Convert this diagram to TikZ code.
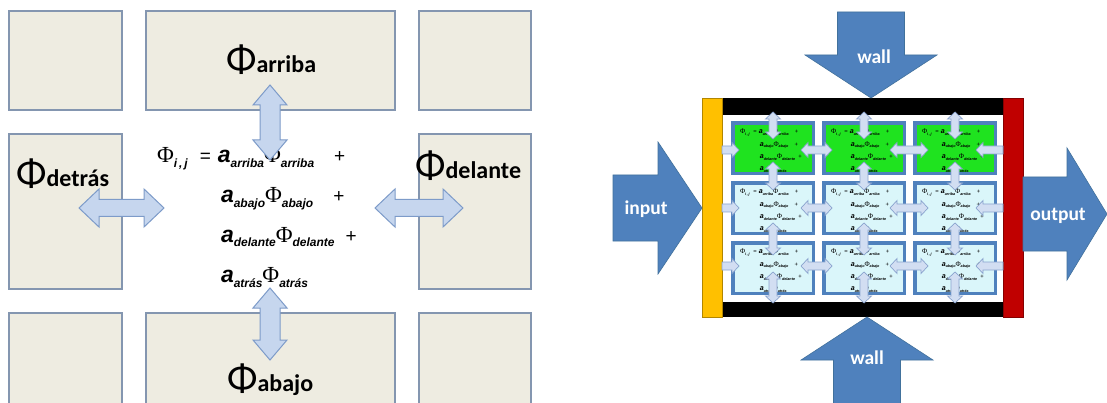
\documentclass[tikz,border=0pt]{standalone}
\usepackage{fontspec}
\setmainfont{Carlito}
\newfontfamily\eqsans{Liberation Sans}
\newfontfamily\eqserif{Liberation Serif}

\definecolor{boxfill}{HTML}{EEECE1}
\definecolor{boxline}{HTML}{8496B0}
\definecolor{lightfill}{HTML}{C6D6EE}
\definecolor{lightline}{HTML}{7D9BC9}
\definecolor{minifill}{HTML}{D2DEF2}
\definecolor{miniline}{HTML}{8AA3CE}
\definecolor{bigblue}{HTML}{4F81BD}
\definecolor{bigline}{HTML}{41719C}
\definecolor{cellcyan}{HTML}{DAF6FA}
\definecolor{cellgreen}{HTML}{1FE31F}
\definecolor{inlet}{HTML}{FFC000}
\definecolor{outlet}{HTML}{C00000}

% pieces of the discretised equation
\newcommand\Aco[1]{{\eqsans\bfseries\itshape\fontsize{23}{23}\selectfont a}\raisebox{-5pt}{\eqsans\bfseries\itshape\fontsize{12}{12}\selectfont #1}}
\newcommand\Phv[1]{{\eqserif\fontsize{23}{23}\selectfont Φ}\raisebox{-5pt}{\eqsans\bfseries\itshape\fontsize{12}{12}\selectfont #1}}
\newcommand\Pls{{\eqsans\fontsize{19}{19}\selectfont +}}
\newcommand\Eqs{{\eqsans\fontsize{19}{19}\selectfont =}}
\newcommand\Biglbl[1]{{\fontsize{40}{40}\selectfont Φ}{\fontsize{24}{24}\selectfont\bfseries #1}}

% the four-line equation, origin at the start of the first baseline
\newcommand\eqblock[1]{%
  \node[eqline] (#1-1) at (0,0) {\Phv{i\,,\,j}\hspace{12pt}\Eqs\hspace{7pt}\Aco{arriba}\Phv{arriba}\hspace{20pt}\Pls};
  \node[eqline] (#1-2) at (64,40) {\Aco{abajo}\Phv{abajo}\hspace{20pt}\Pls};
  \node[eqline] (#1-3) at (64,79) {\Aco{delante}\Phv{delante}\hspace{11pt}\Pls};
  \node[eqline] (#1-4) at (64,119) {\Aco{atrás}\Phv{atrás}};
}

% block arrows: style, start, end, axis position, shaft half width, head half width, head length
\newcommand\hdarrow[7]{\draw[#1] (#2,#4) -- ({#2+#7},{#4-#6}) -- ({#2+#7},{#4-#5}) -- ({#3-#7},{#4-#5}) -- ({#3-#7},{#4-#6}) -- (#3,#4) -- ({#3-#7},{#4+#6}) -- ({#3-#7},{#4+#5}) -- ({#2+#7},{#4+#5}) -- ({#2+#7},{#4+#6}) -- cycle;}
\newcommand\vdarrow[7]{\draw[#1] (#4,#2) -- ({#4-#6},{#2+#7}) -- ({#4-#5},{#2+#7}) -- ({#4-#5},{#3-#7}) -- ({#4-#6},{#3-#7}) -- (#4,#3) -- ({#4+#6},{#3-#7}) -- ({#4+#5},{#3-#7}) -- ({#4+#5},{#2+#7}) -- ({#4+#6},{#2+#7}) -- cycle;}
% single-headed: tail, tip, axis, shaft half, head half, signed head length
\newcommand\hsarrow[7]{\draw[#1] (#2,{#4-#5}) -- ({#3-(#7)},{#4-#5}) -- ({#3-(#7)},{#4-#6}) -- (#3,#4) -- ({#3-(#7)},{#4+#6}) -- ({#3-(#7)},{#4+#5}) -- (#2,{#4+#5}) -- cycle;}
\newcommand\vsarrow[7]{\draw[#1] ({#4-#5},#2) -- ({#4-#5},{#3-(#7)}) -- ({#4-#6},{#3-(#7)}) -- (#4,#3) -- ({#4+#6},{#3-(#7)}) -- ({#4+#5},{#3-(#7)}) -- ({#4+#5},#2) -- cycle;}

\tikzset{
  eqline/.style={anchor=base west, inner sep=0pt, outer sep=0pt},
  cellbox/.style={fill=boxfill, draw=boxline, line width=1.2pt},
  biglabel/.style={anchor=base west, inner sep=0pt},
  light/.style={fill=lightfill, draw=lightline, line width=1pt, line join=miter},
  mini/.style={fill=minifill, draw=miniline, line width=0.7pt},
  big/.style={fill=bigblue, draw=bigline, line width=0.6pt},
  arrowtext/.style={text=white, font=\fontsize{19.5}{19.5}\selectfont\bfseries, inner sep=0pt},
}

\begin{document}
\begin{tikzpicture}[x=1pt, y=-1pt]
\useasboundingbox (0,0) rectangle (1107,403);
\fill[white] (0,0) rectangle (1107,403);
\clip (0,0) rectangle (1107,403);

% ---------- stencil of neighbouring cells ----------
\draw[cellbox] (9,11) rectangle (122,110);
\draw[cellbox] (146,11) rectangle (395,110);
\draw[cellbox] (419,11) rectangle (531,110);
\draw[cellbox] (9,134) rectangle (122,289);
\draw[cellbox] (419,134) rectangle (531,289);
\draw[cellbox] (9,313) rectangle (122,415);
\draw[cellbox] (146,313) rectangle (395,415);
\draw[cellbox] (419,313) rectangle (531,415);

\node[biglabel] (arriba) at (226,73) {\Biglbl{arriba}};
\node[biglabel] (detras) at (16,187) {\Biglbl{detrás}};
\node[biglabel] (delante) at (415,179) {\Biglbl{delante}};
\node[biglabel] (abajo) at (227,391) {\Biglbl{abajo}};

\begin{scope}[shift={(157,163)}]
  \eqblock{eq}
\end{scope}

\vdarrow{light}{85}{160}{270}{10}{17}{20}
\vdarrow{light}{288}{360}{270}{10}{17}{20}
\hdarrow{light}{79}{164}{208}{8.5}{19}{20}
\hdarrow{light}{375}{463}{208}{8.5}{19}{20}

% ---------- channel discretised into 3x3 cells ----------
\fill[white] (722,115) rectangle (1003,302);
\foreach \cx [count=\ci] in {731,822,913} {
  \foreach \cy [count=\ri] in {121,181,241} {
    \ifnum\ri=1 \def\cf{cellgreen}\else\def\cf{cellcyan}\fi
    \fill[bigblue] (\cx,\cy) rectangle ({\cx+84},{\cy+54});
    \fill[\cf] ({\cx+4},{\cy+4}) rectangle ({\cx+81},{\cy+51});
    \begin{scope}[shift={({\cx+9},{\cy+13})}, scale=0.31, transform shape]
      \eqblock{cell\ci\ri}
    \end{scope}
  }
}

\fill[black] (722,98) rectangle (1003,115);
\fill[black] (722,302) rectangle (1003,317);
\draw[fill=inlet, draw=inlet!70!black, line width=0.4pt] (702,98) rectangle (722,317);
\draw[fill=outlet, draw=outlet!70!black, line width=0.4pt] (1003,98) rectangle (1023,317);

\foreach \ax in {773,864,955} {
  \vdarrow{mini}{112}{139}{\ax}{4}{7.5}{7}
  \vdarrow{mini}{162}{190}{\ax}{4}{7.5}{7}
  \vdarrow{mini}{223}{255}{\ax}{4}{7.5}{7}
  \vdarrow{mini}{272}{303}{\ax}{4}{7.5}{7}
}
\foreach \ay in {150,208,266} {
  \hsarrow{mini}{722}{739}{\ay}{4}{7.5}{7}
  \hdarrow{mini}{801}{832}{\ay}{4}{7.5}{7}
  \hdarrow{mini}{890}{928}{\ay}{4}{7.5}{7}
  \hsarrow{mini}{1003}{976}{\ay}{4}{7.5}{-7}
}

% boundary conditions
\vsarrow{big}{12}{98}{871}{33.5}{66}{43}
\vsarrow{big}{410}{317}{867}{33.5}{66}{-43}
\hsarrow{big}{613}{702}{208}{33}{66}{44}
\hsarrow{big}{1023}{1107}{214}{37}{66}{40}

\node[arrowtext] (wtop) at (874,57) {wall};
\node[arrowtext] (wbot) at (867,358) {wall};
\node[arrowtext] (inp) at (646,209) {input};
\node[arrowtext] (outp) at (1058,216) {output};
\end{tikzpicture}
\end{document}
